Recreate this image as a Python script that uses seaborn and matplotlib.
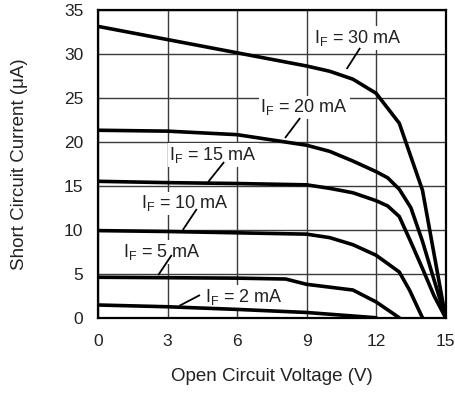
import matplotlib
matplotlib.use("Agg")
import matplotlib.pyplot as plt
import numpy as np
import pandas as pd
import seaborn as sns

# Short circuit current vs open circuit voltage, one curve per LED forward current
v_30 = [0, 3, 6, 9, 10, 11, 12, 13, 14, 15]
i_30 = [33.1, 31.6, 30.1, 28.6, 28.0, 27.1, 25.5, 22.1, 14.5, 0]

v_20 = [0, 3, 6, 9, 10, 11, 12, 12.5, 13, 13.5, 14, 14.5, 15]
i_20 = [21.3, 21.2, 20.8, 19.6, 18.9, 17.8, 16.6, 15.9, 14.6, 12.5, 8.7, 4.3, 0]

v_15 = [0, 3, 6, 9, 10, 11, 12, 12.5, 13, 13.5, 14, 14.5, 15]
i_15 = [15.5, 15.35, 15.25, 15.1, 14.7, 14.2, 13.3, 12.7, 11.5, 8.6, 5.6, 2.5, 0]

v_10 = [0, 3, 6, 9, 10, 11, 12, 13, 13.45, 14]
i_10 = [9.9, 9.8, 9.65, 9.5, 9.1, 8.3, 7.1, 5.2, 3.1, 0]

v_5 = [0, 3, 6, 8.1, 9, 11, 12, 13]
i_5 = [4.6, 4.55, 4.5, 4.4, 3.8, 3.15, 1.8, 0]

v_2 = [0, 3, 6, 9, 10, 11, 12]
i_2 = [1.45, 1.25, 0.95, 0.6, 0.4, 0.2, 0]

currents = ["30", "20", "15", "10", "5", "2"]
voltages = [v_30, v_20, v_15, v_10, v_5, v_2]
values = [i_30, i_20, i_15, i_10, i_5, i_2]

# label centre, leader start (near label), leader end (on curve)
label_pos = [(11.2, 31.8), (8.9, 23.9), (4.98, 18.5), (3.75, 13.0), (2.75, 7.5), (6.31, 2.4)]
leader_from = [(11.31, 30.65), (8.72, 22.69), (5.44, 17.69), (4.26, 12.35), (3.18, 7.13), (4.40, 2.58)]
leader_to = [(10.73, 28.26), (8.07, 20.42), (4.75, 15.42), (3.66, 9.97), (2.60, 4.85), (3.51, 1.36)]

x_ticks = [0, 3, 6, 9, 12, 15]
y_ticks = [0, 5, 10, 15, 20, 25, 30, 35]

frames = []
for c, v, i in zip(currents, voltages, values):
    frames.append(pd.DataFrame({"V": v, "I": i, "IF": c}))
df = pd.concat(frames, ignore_index=True)

sns.set_theme(style="white")
plt.rcParams["font.family"] = ["Liberation Sans", "DejaVu Sans"]
plt.rcParams["mathtext.fontset"] = "custom"
plt.rcParams["mathtext.rm"] = "Liberation Sans"
plt.rcParams["mathtext.it"] = "Liberation Sans"

fig = plt.figure(figsize=(4.55, 3.94), dpi=100)
ax = fig.add_axes([0.2154, 0.1935, 0.7640, 0.7820])

sns.lineplot(data=df, x="V", y="I", hue="IF", units="IF", estimator=None,
             palette=["black"] * len(currents), sort=False, legend=False,
             linewidth=2.6, ax=ax, zorder=4)

ax.set_xlim(0, 15)
ax.set_ylim(0, 35)
ax.set_xticks(x_ticks)
ax.set_yticks(y_ticks)
ax.set_xticklabels([str(t) for t in x_ticks])
ax.set_yticklabels([str(t) for t in y_ticks])
ax.tick_params(axis="both", length=0, labelsize=12.5, colors="#222222")
ax.tick_params(axis="x", pad=11.5)
ax.tick_params(axis="y", pad=10.5)
ax.grid(True, color="#3a3a3a", linewidth=1.0, zorder=1)
ax.set_axisbelow(True)
for s in ax.spines.values():
    s.set_visible(True)
    s.set_color("black")
    s.set_linewidth(1.6)
    s.set_zorder(5)

ax.set_xlabel("Open Circuit Voltage (V)", fontsize=13.5, color="#222222", labelpad=14)
ax.set_ylabel("Short Circuit Current (μA)", fontsize=13.5, color="#222222", labelpad=26)

for c, (tx, ty), (ax0, ay0), (ax1, ay1) in zip(currents, label_pos, leader_from, leader_to):
    ax.text(tx, ty, r"$\mathregular{I_F}$ = " + c + " mA", ha="center", va="center",
            fontsize=13, color="#222222", zorder=3,
            bbox=dict(boxstyle="square,pad=0.1", facecolor="white", edgecolor="none"))
    ax.plot([ax0, ax1], [ay0, ay1], color="black", linewidth=1.3, zorder=4,
            solid_capstyle="butt")

fig.savefig("out.png", dpi=100)
